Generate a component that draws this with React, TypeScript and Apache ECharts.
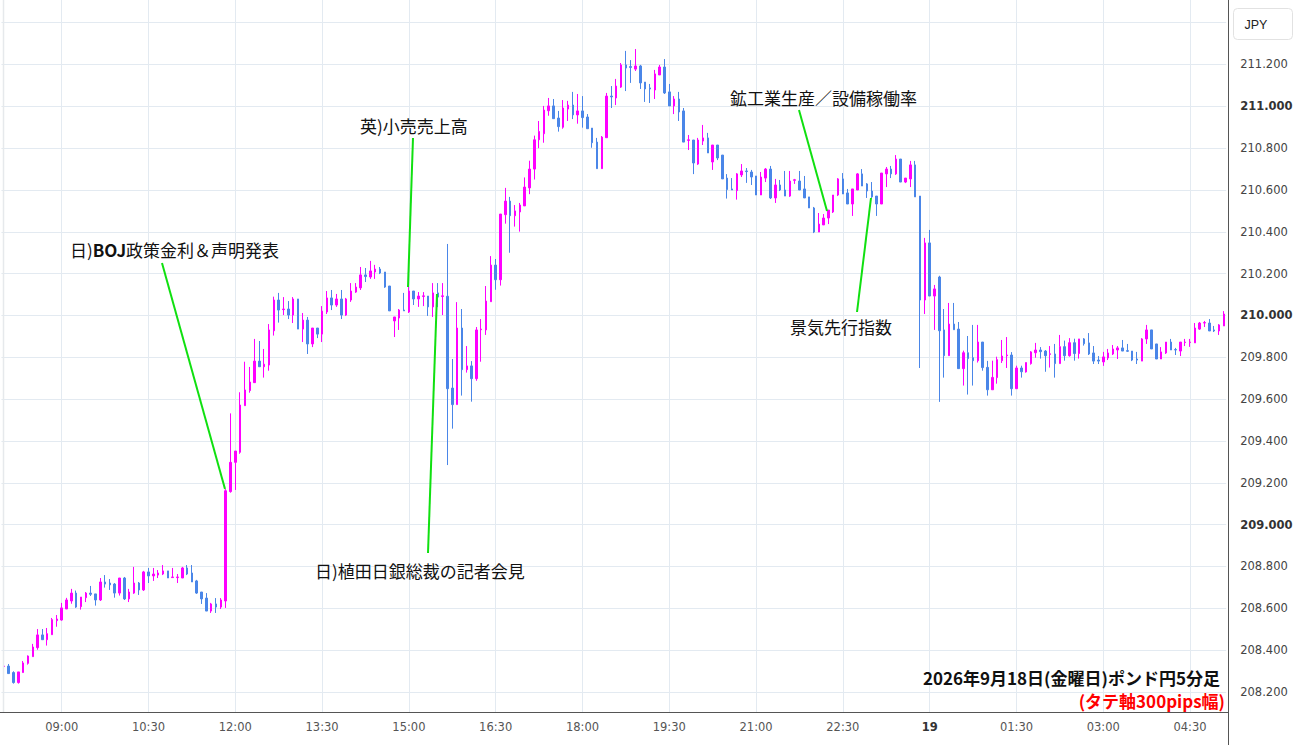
import React, { useEffect, useRef } from "react";
import * as echarts from "echarts";

// 5-minute bars of GBP/JPY, each row: [open, close, low, high]
// 08:00 - 11:45
const barsMorning: number[][] = [
  [208.322, 208.324, 208.320, 208.326], [208.324, 208.288, 208.288, 208.334], [208.293, 208.245, 208.240, 208.299],
  [208.245, 208.296, 208.240, 208.296], [208.293, 208.339, 208.293, 208.348], [208.337, 208.372, 208.331, 208.375],
  [208.369, 208.415, 208.369, 208.430], [208.412, 208.473, 208.402, 208.501], [208.473, 208.450, 208.450, 208.501],
  [208.450, 208.479, 208.422, 208.506], [208.474, 208.546, 208.474, 208.554], [208.541, 208.549, 208.512, 208.568],
  [208.544, 208.602, 208.541, 208.626], [208.597, 208.640, 208.597, 208.650], [208.635, 208.673, 208.622, 208.693],
  [208.673, 208.606, 208.602, 208.685], [208.608, 208.654, 208.594, 208.654], [208.651, 208.673, 208.630, 208.678],
  [208.673, 208.667, 208.659, 208.707], [208.669, 208.640, 208.613, 208.669], [208.640, 208.726, 208.635, 208.745],
  [208.726, 208.716, 208.699, 208.759], [208.721, 208.712, 208.688, 208.740], [208.716, 208.673, 208.651, 208.721],
  [208.673, 208.745, 208.661, 208.745], [208.745, 208.645, 208.640, 208.750], [208.645, 208.678, 208.630, 208.693],
  [208.673, 208.721, 208.669, 208.798], [208.721, 208.688, 208.664, 208.726], [208.688, 208.774, 208.683, 208.779],
  [208.774, 208.755, 208.721, 208.793], [208.755, 208.764, 208.731, 208.793], [208.759, 208.769, 208.745, 208.783],
  [208.764, 208.779, 208.759, 208.807], [208.779, 208.745, 208.745, 208.779], [208.747, 208.750, 208.745, 208.793],
  [208.747, 208.750, 208.721, 208.764], [208.745, 208.793, 208.745, 208.798], [208.793, 208.764, 208.759, 208.807],
  [208.769, 208.726, 208.726, 208.807], [208.731, 208.673, 208.669, 208.736], [208.678, 208.645, 208.621, 208.678],
  [208.649, 208.587, 208.587, 208.673], [208.587, 208.621, 208.578, 208.626], [208.621, 208.606, 208.578, 208.649],
  [208.606, 208.640, 208.597, 208.649],
];
// 11:50 - 15:35
const barsTokyoPM: number[][] = [
  [208.635, 209.162, 208.602, 209.170], [209.158, 209.298, 209.153, 209.532], [209.298, 209.352, 209.166, 209.352],
  [209.346, 209.572, 209.339, 209.633], [209.569, 209.644, 209.569, 209.779], [209.641, 209.682, 209.631, 209.754],
  [209.679, 209.782, 209.679, 209.888], [209.782, 209.755, 209.755, 209.878], [209.755, 209.767, 209.703, 209.840],
  [209.763, 209.931, 209.736, 209.959], [209.927, 210.074, 209.904, 210.090], [210.074, 210.026, 209.966, 210.108],
  [210.028, 210.031, 210.002, 210.088], [210.031, 210.002, 209.983, 210.069], [210.002, 210.079, 209.964, 210.088],
  [210.079, 209.935, 209.935, 210.079], [209.935, 209.978, 209.873, 210.012], [209.978, 209.864, 209.816, 209.993],
  [209.864, 209.940, 209.849, 209.940], [209.940, 209.911, 209.892, 209.940], [209.911, 210.021, 209.873, 210.045],
  [210.017, 210.084, 210.007, 210.117], [210.084, 210.050, 210.026, 210.122], [210.050, 210.079, 210.041, 210.103],
  [210.079, 210.002, 209.983, 210.122], [210.002, 210.079, 209.998, 210.084], [210.074, 210.117, 210.065, 210.155],
  [210.112, 210.136, 210.108, 210.155], [210.132, 210.194, 210.122, 210.232], [210.194, 210.186, 210.160, 210.227],
  [210.184, 210.213, 210.175, 210.261], [210.208, 210.222, 210.175, 210.242], [210.222, 210.203, 210.198, 210.232],
  [210.208, 210.136, 210.132, 210.208], [210.141, 210.022, 210.022, 210.141], [209.974, 209.993, 209.897, 209.993],
  [209.988, 210.026, 209.931, 210.031], [210.026, 210.022, 210.022, 210.108], [210.017, 210.117, 210.012, 210.146],
  [210.117, 210.079, 210.050, 210.117], [210.079, 210.093, 210.041, 210.112], [210.091, 210.094, 210.045, 210.112],
  [210.093, 210.041, 209.998, 210.093], [210.041, 210.108, 209.993, 210.155], [210.108, 210.088, 210.040, 210.155],
  [210.091, 210.094, 210.002, 210.155],
];
// 15:40 - 19:45
const barsLondonAM: number[][] = [
  [210.092, 209.650, 209.285, 210.342], [209.653, 209.574, 209.459, 209.792], [209.574, 209.940, 209.574, 210.064],
  [209.940, 209.741, 209.617, 210.031], [209.741, 209.759, 209.727, 209.854], [209.759, 209.698, 209.588, 209.782],
  [209.698, 209.931, 209.688, 209.945], [209.932, 209.935, 209.779, 209.983], [209.931, 210.069, 209.907, 210.141],
  [210.066, 210.241, 210.066, 210.284], [210.241, 210.171, 210.123, 210.270], [210.171, 210.485, 210.143, 210.485],
  [210.482, 210.547, 210.439, 210.610], [210.547, 210.477, 210.300, 210.567], [210.477, 210.500, 210.425, 210.528],
  [210.495, 210.528, 210.401, 210.538], [210.524, 210.614, 210.524, 210.660], [210.610, 210.700, 210.580, 210.740],
  [210.700, 210.840, 210.650, 210.860], [210.840, 210.880, 210.800, 210.930], [210.869, 210.982, 210.826, 211.002],
  [210.979, 211.002, 210.955, 211.040], [211.002, 210.941, 210.941, 211.035], [210.944, 210.903, 210.879, 210.978],
  [210.900, 210.992, 210.893, 211.030], [210.987, 211.006, 210.930, 211.026], [211.006, 210.959, 210.939, 211.069],
  [210.959, 210.978, 210.917, 211.059], [210.978, 210.946, 210.898, 211.049], [210.949, 210.893, 210.893, 210.963],
  [210.896, 210.826, 210.802, 210.896], [210.829, 210.702, 210.702, 210.849], [210.702, 210.853, 210.702, 210.858],
  [210.850, 211.049, 210.850, 211.064], [211.049, 211.045, 210.992, 211.097], [211.040, 211.097, 211.006, 211.131],
  [211.092, 211.198, 211.088, 211.207], [211.198, 211.183, 211.073, 211.265], [211.190, 211.186, 211.112, 211.221],
  [211.178, 211.193, 211.169, 211.274], [211.193, 211.112, 211.083, 211.198], [211.116, 211.083, 211.021, 211.116],
  [211.088, 211.083, 211.016, 211.107], [211.078, 211.155, 211.035, 211.174], [211.150, 211.188, 211.150, 211.198],
  [211.188, 211.064, 211.059, 211.226], [211.069, 211.002, 211.002, 211.107], [211.002, 211.035, 210.963, 211.049],
  [211.035, 210.973, 210.930, 211.069], [210.978, 210.829, 210.829, 210.992],
];
// 19:50 - 23:45
const barsLondonPM: number[][] = [
  [210.837, 210.840, 210.791, 210.863], [210.839, 210.729, 210.676, 210.839], [210.724, 210.839, 210.720, 210.849],
  [210.834, 210.849, 210.815, 210.911], [210.849, 210.777, 210.777, 210.873], [210.734, 210.815, 210.696, 210.815],
  [210.815, 210.753, 210.743, 210.815], [210.767, 210.653, 210.653, 210.767], [210.657, 210.602, 210.559, 210.676],
  [210.605, 210.600, 210.600, 210.657], [210.597, 210.677, 210.554, 210.681], [210.672, 210.691, 210.662, 210.724],
  [210.691, 210.688, 210.634, 210.705], [210.686, 210.662, 210.624, 210.696], [210.667, 210.576, 210.576, 210.667],
  [210.576, 210.662, 210.576, 210.686], [210.657, 210.700, 210.638, 210.705], [210.700, 210.562, 210.557, 210.715],
  [210.562, 210.624, 210.538, 210.653], [210.624, 210.600, 210.595, 210.648], [210.600, 210.571, 210.571, 210.691],
  [210.571, 210.643, 210.567, 210.691], [210.646, 210.649, 210.629, 210.653], [210.643, 210.600, 210.600, 210.691],
  [210.605, 210.562, 210.562, 210.667], [210.567, 210.514, 210.514, 210.567], [210.514, 210.399, 210.394, 210.519],
  [210.399, 210.437, 210.399, 210.490], [210.433, 210.466, 210.433, 210.485], [210.466, 210.504, 210.437, 210.504],
  [210.495, 210.576, 210.490, 210.576], [210.576, 210.653, 210.571, 210.657], [210.653, 210.581, 210.581, 210.681],
  [210.586, 210.533, 210.533, 210.605], [210.533, 210.605, 210.476, 210.605], [210.600, 210.677, 210.600, 210.681],
  [210.677, 210.619, 210.619, 210.700], [210.629, 210.595, 210.562, 210.633], [210.595, 210.567, 210.562, 210.638],
  [210.571, 210.533, 210.476, 210.571], [210.533, 210.681, 210.533, 210.681], [210.677, 210.700, 210.614, 210.710],
  [210.700, 210.677, 210.657, 210.715], [210.677, 210.748, 210.672, 210.767], [210.748, 210.638, 210.638, 210.748],
  [210.638, 210.657, 210.633, 210.657], [210.653, 210.720, 210.614, 210.739], [210.720, 210.567, 210.567, 210.739],
];
// 23:50 - 05:05
const barsNight: number[][] = [
  [210.571, 210.074, 209.749, 210.571], [210.074, 210.347, 210.007, 210.371], [210.347, 210.093, 210.093, 210.409],
  [210.093, 210.127, 209.931, 210.146], [210.184, 209.927, 209.587, 210.190], [209.931, 209.808, 209.703, 210.031],
  [209.808, 209.959, 209.808, 210.060], [209.959, 209.932, 209.932, 210.060], [209.935, 209.746, 209.746, 209.969],
  [209.746, 209.822, 209.665, 209.832], [209.822, 209.794, 209.622, 209.902], [209.798, 209.784, 209.665, 209.955],
  [209.784, 209.873, 209.775, 209.955], [209.873, 209.751, 209.736, 209.873], [209.752, 209.645, 209.617, 209.783],
  [209.645, 209.704, 209.645, 209.784], [209.703, 209.789, 209.674, 209.803], [209.784, 209.806, 209.773, 209.883],
  [209.808, 209.811, 209.749, 209.897], [209.811, 209.650, 209.617, 209.825], [209.650, 209.749, 209.650, 209.760],
  [209.749, 209.731, 209.703, 209.760], [209.730, 209.775, 209.727, 209.775], [209.770, 209.826, 209.765, 209.830],
  [209.822, 209.835, 209.798, 209.869], [209.835, 209.827, 209.794, 209.849], [209.830, 209.808, 209.731, 209.835],
  [209.814, 209.817, 209.751, 209.854], [209.816, 209.770, 209.703, 209.864], [209.770, 209.851, 209.770, 209.907],
  [209.851, 209.808, 209.784, 209.880], [209.808, 209.870, 209.803, 209.892], [209.870, 209.818, 209.784, 209.889],
  [209.818, 209.888, 209.794, 209.888], [209.888, 209.865, 209.856, 209.892], [209.869, 209.816, 209.811, 209.916],
  [209.821, 209.782, 209.768, 209.854], [209.787, 209.782, 209.768, 209.806], [209.778, 209.802, 209.759, 209.826],
  [209.797, 209.821, 209.787, 209.840], [209.816, 209.840, 209.811, 209.859], [209.835, 209.845, 209.792, 209.854],
  [209.845, 209.830, 209.830, 209.883], [209.832, 209.829, 209.826, 209.864], [209.830, 209.787, 209.782, 209.830],
  [209.792, 209.787, 209.768, 209.826], [209.782, 209.888, 209.782, 209.892], [209.888, 209.931, 209.864, 209.955],
  [209.931, 209.840, 209.840, 209.931], [209.864, 209.792, 209.792, 209.864], [209.792, 209.826, 209.792, 209.849],
  [209.821, 209.873, 209.816, 209.873], [209.873, 209.835, 209.835, 209.888], [209.837, 209.835, 209.811, 209.845],
  [209.830, 209.873, 209.806, 209.873], [209.871, 209.873, 209.854, 209.888], [209.871, 209.873, 209.850, 209.888],
  [209.869, 209.940, 209.869, 209.964], [209.935, 209.964, 209.931, 209.969], [209.964, 209.966, 209.945, 209.974],
  [209.964, 209.926, 209.926, 209.983], [209.931, 209.926, 209.921, 209.950], [209.926, 209.955, 209.907, 209.959],
  [209.950, 210.007, 209.950, 210.021],
];

const firstBarMinutes = 8 * 60; // 08:00
const barMinutes = 5;

// time-axis tick labels, one every 1.5 hours starting 09:00
const xTickLabels = ["09:00", "10:30", "12:00", "13:30", "15:00", "16:30", "18:00", "19:30", "21:00", "22:30", "19", "01:30", "03:00", "04:30"];
const ticksPerLabel = 18; // 18 bars = 1.5 h
const firstTickBar = 12; // 09:00 bar index

// price-axis range
const yMin = 208.2;
const yMax = 211.4;
const yStep = 0.2;

const annotations = [
  { text: "日){b|BOJ}政策金利＆声明発表", tx: 70, ty: 249, x1: 162, y1: 263, x2: 225, y2: 489 },
  { text: "英)小売売上高", tx: 360, ty: 125, x1: 413, y1: 138, x2: 408, y2: 287 },
  { text: "日)植田日銀総裁の記者会見", tx: 315, ty: 570, x1: 428, y1: 553, x2: 437, y2: 294 },
  { text: "鉱工業生産／設備稼働率", tx: 730, ty: 97, x1: 799, y1: 110, x2: 827, y2: 211 },
  { text: "景気先行指数", tx: 790, ty: 326, x1: 857, y1: 312, x2: 871, y2: 198 },
];

const titleText = "2026年9月18日(金曜日)ポンド円5分足";
const subtitleText = "(タテ軸300pips幅)";

const UP = "#ff00ff";
const DOWN = "#4a86e8";
const GRID = "#e3eaf1";
const AXIS_FONT = "DejaVu Sans, Verdana, sans-serif";
const JP_FONT = "'Noto Sans CJK JP', 'Noto Sans', sans-serif";

function fmtTime(m: number) {
  const t = m % (24 * 60);
  const h = Math.floor(t / 60);
  const mm = t % 60;
  return `${String(h).padStart(2, "0")}:${String(mm).padStart(2, "0")}`;
}

export default function App() {
  const ref = useRef<HTMLDivElement>(null);

  useEffect(() => {
    if (!ref.current) return;
    const chart = echarts.init(ref.current, undefined, { renderer: "svg" });
    const bars = [...barsMorning, ...barsTokyoPM, ...barsLondonAM, ...barsLondonPM, ...barsNight];
    const categories = bars.map((_, i) => fmtTime(firstBarMinutes + i * barMinutes));

    const W = 1300;
    const H = 745;
    const plotBottom = 712;
    const slot = 4.822;
    const left0 = 1.43;
    const plotRight = left0 + bars.length * slot;
    const tickLeft = left0 + (firstTickBar + 0.5) * slot;
    const tickSpan = (xTickLabels.length - 1) * ticksPerLabel;
    const tickRight = tickLeft + tickSpan * slot;
    const yTop = 22.66;
    const yBottom = 692;

    const graphic: any[] = [
      { type: "line", silent: true, z: 50, shape: { x1: 3.5, y1: 0, x2: 3.5, y2: plotBottom }, style: { stroke: "#e6e9ec", lineWidth: 1.5 } },
      { type: "line", silent: true, z: 50, shape: { x1: 1228.5, y1: 0, x2: 1228.5, y2: H }, style: { stroke: "#555", lineWidth: 1 } },
      { type: "line", silent: true, z: 50, shape: { x1: 0, y1: plotBottom + 0.5, x2: 1228.5, y2: plotBottom + 0.5 }, style: { stroke: "#555", lineWidth: 1 } },
      { type: "rect", silent: true, z: 50, shape: { x: 1233.5, y: 8.5, width: 59, height: 31, r: 4 }, style: { fill: "#fff", stroke: "#e2e2e2", lineWidth: 1 } },
      { type: "text", silent: true, z: 51, x: 1256, y: 25, style: { text: "JPY", fontSize: 12.5, fontFamily: "'Liberation Sans', Arial, sans-serif", fill: "#222", align: "center", verticalAlign: "middle" } },
      { type: "text", silent: true, z: 51, x: 1220, y: 677, style: { text: titleText, fontSize: 17, fontWeight: "bold", fontFamily: JP_FONT, fill: "#111", align: "right", verticalAlign: "middle" } },
      { type: "text", silent: true, z: 51, x: 1225, y: 700, style: { text: subtitleText, fontSize: 17, fontWeight: "bold", fontFamily: JP_FONT, fill: "#ff0000", align: "right", verticalAlign: "middle" } },
    ];
    annotations.forEach((a) => {
      graphic.push({ type: "line", silent: true, z: 60, shape: { x1: a.x1, y1: a.y1, x2: a.x2, y2: a.y2 }, style: { stroke: "#10e010", lineWidth: 2 } });
      graphic.push({
        type: "text", silent: true, z: 61, x: a.tx, y: a.ty,
        style: {
          text: a.text, fontSize: 17, fontFamily: JP_FONT, fill: "#111", align: "left", verticalAlign: "middle",
          rich: { b: { fontSize: 17, fontWeight: "bold", fontFamily: JP_FONT, fill: "#111" } },
        },
      });
    });

    chart.setOption({
      animation: false,
      backgroundColor: "#fff",
      grid: [
        { left: left0, right: W - plotRight, top: yTop, bottom: H - yBottom, containLabel: false },
        { left: tickLeft, right: W - tickRight, top: 0, bottom: H - plotBottom, containLabel: false },
      ],
      xAxis: [
        { type: "category", gridIndex: 0, data: categories, boundaryGap: true, show: false },
        {
          type: "value", gridIndex: 1, min: 0, max: tickSpan, interval: ticksPerLabel,
          axisLine: { show: false }, axisTick: { show: false },
          splitLine: { show: true, lineStyle: { color: GRID, width: 1 } },
          axisLabel: {
            show: true, margin: 9, color: "#555", fontSize: 11.5, fontFamily: AXIS_FONT,
            showMinLabel: true, showMaxLabel: true, hideOverlap: false,
            formatter: (v: number) => {
              const s = xTickLabels[Math.round(v / ticksPerLabel)] ?? "";
              return s === "19" ? `{b|${s}}` : s;
            },
            rich: { b: { fontWeight: "bold", color: "#333", fontSize: 11.5, fontFamily: AXIS_FONT } },
          },
        },
      ],
      yAxis: [
        {
          type: "value", gridIndex: 0, position: "right", min: yMin, max: yMax, interval: yStep,
          axisLine: { show: false }, axisTick: { show: false },
          splitLine: { show: true, lineStyle: { color: GRID, width: 1 } },
          axisLabel: {
            margin: 14, color: "#444", fontSize: 11.5, fontFamily: AXIS_FONT,
            formatter: (v: number) => {
              if (v > yMax - yStep / 2) return "";
              const s = v.toFixed(3);
              return Math.abs(v - Math.round(v)) < 1e-6 ? `{b|${s}}` : s;
            },
            rich: { b: { fontWeight: "bold", color: "#333", fontSize: 11.5, fontFamily: AXIS_FONT } },
          },
        },
        { type: "value", gridIndex: 1, show: false, min: 0, max: 1 },
      ],
      series: [
        {
          type: "candlestick", xAxisIndex: 0, yAxisIndex: 0, data: bars, barWidth: 2,
          itemStyle: { color: UP, color0: DOWN, borderColor: UP, borderColor0: DOWN, borderWidth: 1 },
        },
      ],
      graphic,
    });
    return () => chart.dispose();
  }, []);

  return <div ref={ref} style={{ position: "fixed", left: 0, top: 0, width: 1300, height: 745, background: "#fff" }} />;
}
